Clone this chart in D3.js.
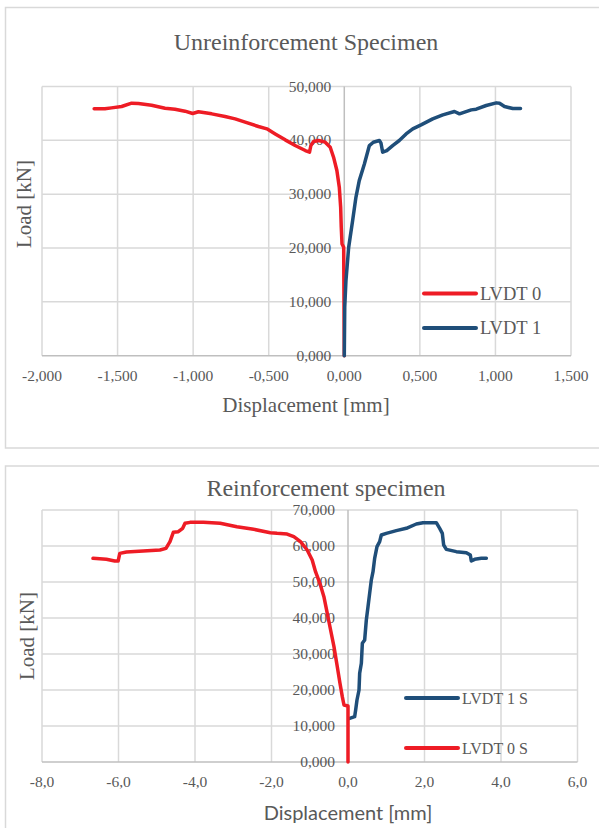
<!DOCTYPE html>
<html><head><meta charset="utf-8">
<script src="https://cdn.jsdelivr.net/npm/d3@7"></script>
<style>
html,body{margin:0;padding:0;background:#fff;}
svg{display:block;}
</style></head>
<body>
<svg id="chart" width="599" height="828"></svg>
<script>
// ---------- DATA ----------
// Unreinforcement specimen: [displacement mm, load kN]
const unreinfLVDT0 = [
  [-1.655,45.85],[-1.584,45.85],[-1.540,46.03],[-1.473,46.28],[-1.407,46.90],[-1.362,46.84],
  [-1.275,46.53],[-1.186,45.97],[-1.120,45.79],[-1.054,45.42],[-1.003,44.99],[-0.965,45.30],
  [-0.877,44.92],[-0.789,44.43],[-0.722,43.99],[-0.656,43.37],[-0.568,42.57],[-0.512,42.13],
  [-0.457,41.20],[-0.391,40.09],[-0.325,39.04],[-0.258,38.11],[-0.230,37.80],[-0.221,39.04],
  [-0.203,39.78],[-0.170,39.97],[-0.126,39.66],[-0.093,38.73],[-0.071,36.87],[-0.049,34.39],
  [-0.033,31.29],[-0.024,27.57],[-0.020,23.85],[-0.015,20.75],[-0.004,20.13],[-0.002,10.00],[0.000,0.00]
];
const unreinfLVDT1 = [
  [0.000,0.00],[0.003,9.00],[0.011,13.92],[0.029,20.12],[0.055,25.08],[0.077,29.42],[0.099,32.52],
  [0.133,35.62],[0.166,39.03],[0.192,39.65],[0.232,39.97],[0.243,39.47],[0.254,37.79],[0.281,38.10],
  [0.320,39.03],[0.364,39.97],[0.409,41.20],[0.453,42.13],[0.508,42.87],[0.585,43.99],[0.652,44.73],
  [0.729,45.36],[0.762,44.92],[0.840,45.66],[0.873,45.79],[0.939,46.47],[1.006,46.96],[1.027,46.90],
  [1.060,46.28],[1.115,45.91],[1.166,45.91]
];
// Reinforcement specimen
const reinfLVDT1S = [
  [0.044,12.13],[0.174,12.59],[0.200,14.44],[0.235,17.22],[0.288,20.00],[0.305,24.63],[0.349,27.41],
  [0.375,32.96],[0.436,33.89],[0.479,39.44],[0.523,43.15],[0.566,46.85],[0.610,50.56],[0.654,52.87],
  [0.697,56.57],[0.758,59.81],[0.828,61.20],[0.871,63.06],[1.002,63.52],[1.264,64.26],[1.525,64.91],
  [1.786,66.11],[1.961,66.48],[2.309,66.48],[2.397,64.91],[2.466,63.52],[2.501,60.28],[2.571,59.07],
  [2.832,58.43],[3.094,58.15],[3.198,57.50],[3.224,55.83],[3.312,56.30],[3.486,56.57],[3.617,56.57]
];
const reinfLVDT0S = [
  [-6.667,56.57],[-6.317,56.30],[-6.098,55.83],[-6.010,55.83],[-5.966,57.96],[-5.792,58.33],
  [-5.354,58.61],[-4.917,58.89],[-4.759,59.35],[-4.654,61.20],[-4.567,63.80],[-4.436,63.98],
  [-4.322,64.91],[-4.261,66.30],[-4.129,66.57],[-3.780,66.57],[-3.342,66.30],[-2.905,65.37],
  [-2.467,64.63],[-2.030,63.70],[-1.855,63.52],[-1.592,63.33],[-1.417,62.59],[-1.242,61.20],
  [-1.067,58.89],[-0.936,56.11],[-0.849,52.87],[-0.735,49.63],[-0.630,45.93],[-0.542,41.30],
  [-0.455,36.67],[-0.367,32.04],[-0.280,26.48],[-0.210,21.85],[-0.149,18.15],[-0.105,15.83],
  [0.000,15.56],[0.000,0.00]
];
const topXTicks = [-2,-1.5,-1,-0.5,0,0.5,1,1.5];
const topYTicks = [0,10,20,30,40,50];
const botXTicks = [-8,-6,-4,-2,0,2,4,6];
const botYTicks = [0,10,20,30,40,50,60,70];
const topTitle = "Unreinforcement Specimen";
const botTitle = "Reinforcement specimen";
const xTitle = "Displacement [mm]";
const yTitle = "Load [kN]";
const topLegend = ["LVDT 0","LVDT 1"];
const botLegend = ["LVDT 1 S","LVDT 0 S"];

// ---------- DRAW ----------
const RED = "#ee1c25", BLUE = "#1f4e79", GRID = "#d9d9d9", AXIS = "#bfbfbf", TXT = "#595959";
const SERIF = "'Liberation Serif','Times New Roman',serif";
const loc = d3.formatLocale({decimal:",", thousands:".", grouping:[3], currency:["",""], minus:"-"});
const svg = d3.select("#chart");

function drawChart(o){
  const g = svg.append("g");
  g.append("rect").attr("x",o.box[0]).attr("y",o.box[1]).attr("width",o.box[2]).attr("height",o.box[3])
    .attr("fill","none").attr("stroke",GRID).attr("stroke-width",1.5);
  const x = d3.scaleLinear().domain(o.xDom).range(o.xRange);
  const y = d3.scaleLinear().domain(o.yDom).range(o.yRange);
  const fx = loc.format(o.xFmt), fy = loc.format(o.yFmt);
  // gridlines
  g.selectAll(".vg").data(o.xTicks.filter(d=>d!==0)).join("line")
    .attr("x1",d=>x(d)).attr("x2",d=>x(d)).attr("y1",y.range()[0]).attr("y2",y.range()[1])
    .attr("stroke",GRID).attr("stroke-width",1.5);
  g.selectAll(".hg").data(o.yTicks.filter(d=>d!==0)).join("line")
    .attr("x1",x.range()[0]).attr("x2",x.range()[1]).attr("y1",d=>y(d)).attr("y2",d=>y(d))
    .attr("stroke",GRID).attr("stroke-width",1.5);
  // axes
  g.append("line").attr("x1",x.range()[0]).attr("x2",x.range()[1]).attr("y1",y(0)).attr("y2",y(0))
    .attr("stroke",AXIS).attr("stroke-width",1.5);
  g.append("line").attr("x1",x(0)).attr("x2",x(0)).attr("y1",y.range()[0]).attr("y2",y.range()[1])
    .attr("stroke",AXIS).attr("stroke-width",1.5);
  // tick labels
  g.selectAll(".xl").data(o.xTicks).join("text")
    .attr("x",d=>x(d)).attr("y",y(0)+o.xLabOff).attr("text-anchor","middle")
    .attr("font-family",SERIF).attr("font-size",o.tickSize).attr("fill",TXT).text(d=>fx(d));
  g.selectAll(".yl").data(o.yTicks).join("text")
    .attr("x",x(0)-13).attr("y",d=>y(d)).attr("dy","0.33em").attr("text-anchor","end")
    .attr("font-family",SERIF).attr("font-size",o.tickSize).attr("fill",TXT).text(d=>fy(d));
  // series
  const line = d3.line().x(d=>x(d[0])).y(d=>y(d[1])).curve(d3.curveLinear);
  o.series.forEach(s=>{
    g.append("path").datum(s.data).attr("d",line).attr("fill","none").attr("stroke",s.color)
      .attr("stroke-width",3.5).attr("stroke-linejoin","round").attr("stroke-linecap","round");
  });
  // titles
  g.append("text").attr("x",o.titlePos[0]).attr("y",o.titlePos[1]).attr("text-anchor","middle")
    .attr("font-family",SERIF).attr("font-size",24).attr("fill",TXT).text(o.title);
  g.append("text").attr("x",o.xtPos[0]).attr("y",o.xtPos[1]).attr("text-anchor","middle")
    .attr("font-family",o.xtFont).attr("font-size",o.xtSize).attr("fill",TXT).text(xTitle);
  g.append("text").attr("transform",`translate(${o.ytPos[0]},${o.ytPos[1]}) rotate(-90)`)
    .attr("text-anchor","middle").attr("font-family",SERIF).attr("font-size",21).attr("fill",TXT).text(yTitle);
  // legend
  o.legend.forEach((l,i)=>{
    const ly = o.legY[i];
    g.append("line").attr("x1",o.legX[0]).attr("x2",o.legX[1]).attr("y1",ly).attr("y2",ly)
      .attr("stroke",l.color).attr("stroke-width",4).attr("stroke-linecap","round");
    g.append("text").attr("x",o.legX[1]+4).attr("y",ly).attr("dy","0.35em")
      .attr("font-family",SERIF).attr("font-size",o.legSize).attr("fill",TXT).text(l.name);
  });
}

drawChart({
  box:[5.5,7.5,640,440.5],
  xDom:[-2,1.5], xRange:[42,571], yDom:[0,50], yRange:[355.7,86.5],
  xTicks:topXTicks, yTicks:topYTicks, xFmt:".3f", yFmt:".3f", tickSize:15.5, xLabOff:25,
  series:[{data:unreinfLVDT0,color:RED},{data:unreinfLVDT1,color:BLUE}],
  title:topTitle, titlePos:[306,50], xtPos:[306,412], xtFont:SERIF, xtSize:21, ytPos:[31,204],
  legend:[{name:topLegend[0],color:RED},{name:topLegend[1],color:BLUE}],
  legX:[424,476], legY:[293.5,328], legSize:18.5
});
drawChart({
  box:[5.5,466,640,400],
  xDom:[-8,6], xRange:[42,577.5], yDom:[0,70], yRange:[762,510],
  xTicks:botXTicks, yTicks:botYTicks, xFmt:".1f", yFmt:".3f", tickSize:15.5, xLabOff:25,
  series:[{data:reinfLVDT1S,color:BLUE},{data:reinfLVDT0S,color:RED}],
  title:botTitle, titlePos:[326,496], xtPos:[348,820], xtFont:"Lato,'Open Sans',sans-serif", xtSize:20, ytPos:[34,636],
  legend:[{name:botLegend[0],color:BLUE},{name:botLegend[1],color:RED}],
  legX:[406,458], legY:[698,748], legSize:16
});
</script>
</body></html>
